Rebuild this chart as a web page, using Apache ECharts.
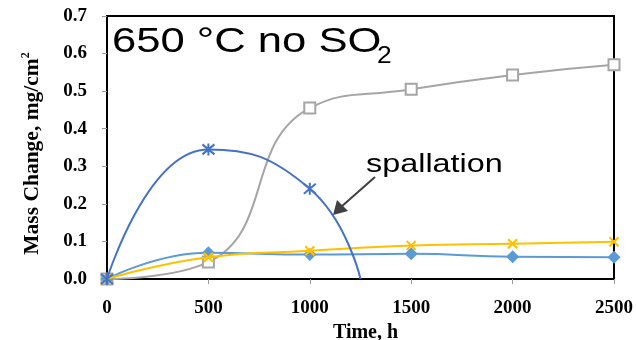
<!DOCTYPE html>
<html>
<head>
<meta charset="utf-8">
<script src="https://cdn.jsdelivr.net/npm/echarts@6/dist/echarts.min.js"></script>
<style>
  html, body { margin: 0; padding: 0; background: #fff; }
  #chart { width: 636px; height: 340px; }
</style>
</head>
<body>
<div id="chart"></div>
<script>
// Exposure time (h) and mass change (mg/cm²) at 650 °C without SO2
const hours = [0, 500, 1000, 1500, 2000, 2500];
const graySquares = [0, 0.045, 0.455, 0.505, 0.543, 0.570];
const blueDiamonds = [0, 0.070, 0.065, 0.067, 0.059, 0.058];
const yellowCrosses = [0, 0.058, 0.075, 0.089, 0.094, 0.099];
const spallHours = [0, 500, 1000, 1250];
const spallValues = [0, 0.345, 0.240, 0];
const xTicks = [0, 500, 1000, 1500, 2000, 2500];
const yTicks = [0, 0.1, 0.2, 0.3, 0.4, 0.5, 0.6, 0.7];

const pairs = (xs, ys) => xs.map((x, i) => [x, ys[i]]);

const asterisk = 'path://M0,0L10,10M10,0L0,10M5,-1L5,11';
const cross = 'path://M0,0L10,10M10,0L0,10';

const serifBold = { fontFamily: '"Liberation Serif", "Times New Roman", serif', fontWeight: 'bold', color: '#000' };

const chart = echarts.init(document.getElementById('chart'));
chart.setOption({
  animation: false,
  backgroundColor: '#fff',
  grid: {
    left: 107, right: 22, top: 16, bottom: 61,
    containLabel: false,
    outerBoundsMode: 'none',
    show: true, borderColor: '#000', borderWidth: 2, backgroundColor: 'transparent'
  },
  xAxis: {
    type: 'value',
    min: xTicks[0], max: xTicks[xTicks.length - 1], interval: 500,
    name: 'Time, h',
    nameLocation: 'middle',
    nameGap: 37,
    nameTextStyle: Object.assign({ fontSize: 20, padding: [0, 0, 0, 10] }, serifBold),
    axisLine: { lineStyle: { color: '#000', width: 2 } },
    axisTick: { show: true, inside: false, length: 5, lineStyle: { color: '#999' } },
    axisLabel: Object.assign({ fontSize: 19, margin: 20, formatter: v => String(v) }, serifBold),
    splitLine: { show: false }
  },
  yAxis: {
    type: 'value',
    min: yTicks[0], max: yTicks[yTicks.length - 1], interval: 0.1,
    name: '{a|Mass Change, mg/cm}{s|2}',
    nameLocation: 'middle',
    nameGap: 63,
    nameRotate: 90,
    nameTextStyle: {
      padding: [0, 12, 0, 0],
      rich: {
        a: Object.assign({ fontSize: 21.5, lineHeight: 24 }, serifBold),
        s: Object.assign({ fontSize: 12, lineHeight: 24, verticalAlign: 'top', padding: [0, 0, 8, 0] }, serifBold)
      }
    },
    axisLine: { lineStyle: { color: '#000', width: 2 } },
    axisTick: { show: true, inside: false, length: 5, lineStyle: { color: '#999' } },
    axisLabel: Object.assign({ fontSize: 19, margin: 20, formatter: v => v.toFixed(1) }, serifBold),
    splitLine: { show: false }
  },
  series: [
    {
      type: 'line',
      data: pairs(hours, graySquares),
      smooth: 0.5,
      symbol: 'rect',
      symbolSize: 11,
      lineStyle: { color: '#A5A5A5', width: 2 },
      itemStyle: { color: '#fff', borderColor: '#A5A5A5', borderWidth: 2 },
      z: 2
    },
    {
      type: 'line',
      data: pairs(hours, blueDiamonds),
      smooth: 0.5,
      symbol: 'diamond',
      symbolSize: 13,
      lineStyle: { color: '#5B9BD5', width: 2 },
      itemStyle: { color: '#5B9BD5' },
      z: 3
    },
    {
      type: 'line',
      data: pairs(hours, yellowCrosses),
      smooth: 0.5,
      symbol: cross,
      symbolSize: 9,
      lineStyle: { color: '#FFC000', width: 2 },
      itemStyle: { color: 'none', borderColor: '#FFC000', borderWidth: 2 },
      z: 4
    },
    {
      type: 'line',
      data: spallHours.map((h, i) => (i === spallHours.length - 1)
        ? { value: [h, spallValues[i]], symbol: 'none' }
        : [h, spallValues[i]]),
      smooth: 0.5,
      symbol: asterisk,
      symbolSize: 12,
      lineStyle: { color: '#4472C4', width: 2 },
      itemStyle: { color: 'none', borderColor: '#4472C4', borderWidth: 2 },
      z: 5
    }
  ],
  graphic: [
    {
      type: 'text', x: 112, y: 42, scaleX: 1.245, originX: 0, originY: 0, z: 10,
      style: { text: '650 °C no SO', font: '35px "Liberation Sans", Arial, sans-serif', fill: '#000', textAlign: 'left', textVerticalAlign: 'middle' }
    },
    {
      type: 'text', x: 377, y: 57, scaleX: 1.15, originX: 0, originY: 0, z: 10,
      style: { text: '2', font: '23px "Liberation Sans", Arial, sans-serif', fill: '#000', textAlign: 'left', textVerticalAlign: 'middle' }
    },
    {
      type: 'text', x: 366, y: 165, scaleX: 1.27, originX: 0, originY: 0, z: 10,
      style: { text: 'spallation', font: '25.5px "Liberation Sans", Arial, sans-serif', fill: '#000', textAlign: 'left', textVerticalAlign: 'middle' }
    },
    {
      type: 'line', z: 10,
      shape: { x1: 375, y1: 177, x2: 341, y2: 207 },
      style: { stroke: '#404040', lineWidth: 2 }
    },
    {
      type: 'polygon', z: 10,
      shape: { points: [[333, 215], [337, 200], [348, 211]] },
      style: { fill: '#404040' }
    }
  ]
});
</script>
</body>
</html>
